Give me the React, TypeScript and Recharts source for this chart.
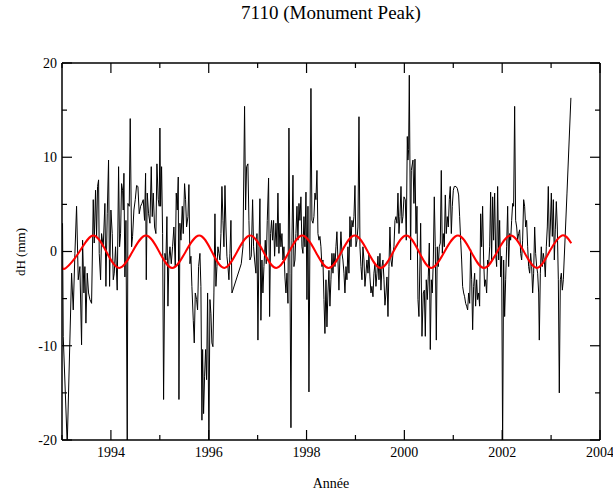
import { LineChart, Line, XAxis, YAxis } from "recharts";

const title = "7110 (Monument Peak)";
const xTitle = "Année";
const yTitle = "dH (mm)";

const yearTicks = [1993, 1994, 1995, 1996, 1997, 1998, 1999, 2000, 2001, 2002, 2003, 2004];
const dhTicks = [-20, -15, -10, -5, 0, 5, 10, 15, 20];

// dH observations, [decimal year, mm], one array per year
const obs1993: [number, number][] = [
  [1993.011, 3.0], [1993.025, -9.0], [1993.107, -20.5], [1993.196, -2.3], [1993.23, -6.2], [1993.264, -0.2],
  [1993.298, 4.8], [1993.332, -3.0], [1993.366, -1.6], [1993.4, -9.9], [1993.421, 1.2], [1993.448, -4.4],
  [1993.468, -1.6], [1993.489, -7.6], [1993.516, -2.3], [1993.543, -4.4], [1993.571, -5.1], [1993.605, -5.5],
  [1993.639, 5.5], [1993.659, 0.9], [1993.686, 6.5], [1993.707, 1.6], [1993.727, 6.9], [1993.748, 7.6],
  [1993.761, -0.2], [1993.789, -3.0], [1993.809, 1.9], [1993.843, 0.5], [1993.877, 5.1], [1993.898, -3.7],
  [1993.925, 4.0], [1993.952, 9.7], [1993.973, -3.7],
];
const obs1994: [number, number][] = [
  [1994.0, 4.4], [1994.027, 1.9], [1994.048, -3.0], [1994.068, -2.3], [1994.095, 0.5], [1994.129, -4.1],
  [1994.157, 9.0], [1994.177, 0.5], [1994.198, 1.9], [1994.218, 7.2], [1994.239, 6.5], [1994.252, 4.4],
  [1994.266, 8.3], [1994.286, -2.7], [1994.307, 3.3], [1994.334, -20.5], [1994.348, 5.1], [1994.375, 4.8],
  [1994.395, 14.1], [1994.423, 0.5], [1994.443, 1.6], [1994.47, 4.4], [1994.498, 5.5], [1994.525, 7.0],
  [1994.552, 6.9], [1994.579, 4.0], [1994.607, 4.8], [1994.634, 5.1], [1994.661, 5.5], [1994.688, 3.3],
  [1994.709, 8.3], [1994.723, -3.0], [1994.743, 6.2], [1994.77, 4.0], [1994.798, 3.0], [1994.825, 9.0],
  [1994.845, 3.7], [1994.866, 6.2], [1994.893, 2.6], [1994.92, 1.9], [1994.941, 9.3], [1994.968, 5.5],
  [1994.988, 4.8],
];
const obs1995: [number, number][] = [
  [1995.002, 13.1], [1995.016, 4.8], [1995.036, 9.0], [1995.057, 1.9], [1995.077, -15.7], [1995.104, -0.2],
  [1995.125, -0.9], [1995.145, 3.7], [1995.166, -5.8], [1995.186, -0.9], [1995.207, 0.5], [1995.234, -1.3],
  [1995.261, 0.5], [1995.288, 2.6], [1995.316, -1.6], [1995.336, 6.2], [1995.357, 4.4], [1995.377, 7.9],
  [1995.391, -15.7], [1995.411, 3.0], [1995.432, 1.2], [1995.459, 4.8], [1995.479, 1.9], [1995.506, 7.2],
  [1995.527, 5.5], [1995.547, 2.6], [1995.575, 3.7], [1995.595, 7.1], [1995.616, -1.3], [1995.636, -0.5],
  [1995.656, -3.7], [1995.684, -7.3], [1995.704, -9.7], [1995.725, -4.4], [1995.752, -5.1], [1995.772, -6.2],
  [1995.793, -1.6], [1995.82, -0.2], [1995.84, -3.7], [1995.861, -17.9], [1995.875, -10.4], [1995.895, -17.2],
  [1995.915, -13.3], [1995.936, -10.4], [1995.956, -13.6], [1995.977, -4.4],
];
const obs1996: [number, number][] = [
  [1996.004, -20.5], [1996.025, -5.1], [1996.045, -6.6], [1996.065, -9.7], [1996.086, -10.1], [1996.106, -4.4],
  [1996.127, 4.0], [1996.147, -3.7], [1996.168, -1.6], [1996.188, 0.5], [1996.209, -0.2], [1996.229, -0.9],
  [1996.25, 1.9], [1996.27, 6.9], [1996.291, 3.3], [1996.311, 0.5], [1996.332, 7.0], [1996.352, 2.6],
  [1996.372, -0.5], [1996.393, -1.6], [1996.413, -3.0], [1996.434, -0.2], [1996.454, 3.3], [1996.475, -4.4],
  [1996.665, -1.3], [1996.7, 0.5], [1996.733, 15.4], [1996.754, 4.4], [1996.774, 9.0], [1996.801, 9.3],
  [1996.822, 3.3], [1996.842, -0.9], [1996.87, -0.5], [1996.897, 5.5], [1996.917, 0.5], [1996.938, -0.9],
  [1996.965, -2.3], [1996.986, 1.9],
];
const obs1997: [number, number][] = [
  [1997.006, -9.4], [1997.027, 0.5], [1997.047, 5.6], [1997.067, -7.3], [1997.088, -0.9], [1997.108, -4.4],
  [1997.129, -1.6], [1997.156, 1.2], [1997.176, -1.3], [1997.197, 3.3], [1997.224, 7.8], [1997.245, -6.9],
  [1997.265, 1.9], [1997.285, 3.3], [1997.306, 1.2], [1997.326, 3.3], [1997.347, -0.5], [1997.374, 3.0],
  [1997.395, 0.5], [1997.415, 6.2], [1997.435, -0.2], [1997.456, 3.0], [1997.476, 0.5], [1997.497, 1.9],
  [1997.517, -0.9], [1997.538, 0.5], [1997.558, -2.7], [1997.579, -4.4], [1997.599, -2.3], [1997.62, -5.5],
  [1997.64, 13.1], [1997.661, -2.3], [1997.681, -18.7], [1997.701, 1.2], [1997.722, 8.1], [1997.742, -1.6],
  [1997.763, -0.9], [1997.783, 1.9], [1997.804, 4.8], [1997.824, 1.2], [1997.845, 5.1], [1997.865, 3.3],
  [1997.885, 5.8], [1997.906, 0.5], [1997.926, -0.2], [1997.947, 3.7], [1997.967, 0.5], [1997.988, 6.3],
];
const obs1998: [number, number][] = [
  [1998.008, -5.1], [1998.029, 4.8], [1998.049, -14.9], [1998.069, 1.2], [1998.09, 17.3], [1998.11, 3.3],
  [1998.131, 3.0], [1998.151, 3.7], [1998.172, 6.2], [1998.192, 5.5], [1998.213, 8.6], [1998.233, 1.9],
  [1998.254, 1.2], [1998.274, 1.6], [1998.294, 0.5], [1998.315, -1.6], [1998.335, -0.9], [1998.356, -5.1],
  [1998.376, -8.7], [1998.397, -3.0], [1998.417, -8.0], [1998.437, -4.4], [1998.458, -2.0], [1998.478, -5.8],
  [1998.499, -3.0], [1998.519, -0.2], [1998.54, -2.3], [1998.56, -0.2], [1998.581, -1.6], [1998.601, 0.5],
  [1998.621, 2.1], [1998.642, -0.9], [1998.662, -4.1], [1998.683, -0.5], [1998.703, 2.1], [1998.724, -0.2],
  [1998.744, -0.9], [1998.765, -2.3], [1998.785, -4.4], [1998.806, -1.6], [1998.826, -3.0], [1998.846, 0.5],
  [1998.867, -2.3], [1998.887, 3.7], [1998.908, 0.5], [1998.928, 3.3], [1998.949, 2.6], [1998.969, 3.7],
  [1998.99, 7.0],
];
const obs1999: [number, number][] = [
  [1999.01, 0.5], [1999.031, 1.2], [1999.051, 2.6], [1999.072, 14.3], [1999.092, 0.5], [1999.113, -1.6],
  [1999.133, -3.0], [1999.153, 0.5], [1999.174, -0.9], [1999.194, -3.7], [1999.215, -2.3], [1999.235, -0.9],
  [1999.256, -2.3], [1999.276, -0.2], [1999.296, -2.7], [1999.317, -4.4], [1999.337, -3.7], [1999.358, -4.8],
  [1999.378, -2.3], [1999.399, -1.3], [1999.419, -3.7], [1999.44, -2.3], [1999.46, -0.5], [1999.481, -3.0],
  [1999.501, -0.2], [1999.521, -4.1], [1999.542, -1.6], [1999.562, -0.9], [1999.583, -3.0], [1999.603, -5.7],
  [1999.624, -4.4], [1999.644, -2.7], [1999.665, -6.9], [1999.685, -1.6], [1999.705, 2.6], [1999.726, -0.9],
  [1999.746, -1.6], [1999.767, -0.2], [1999.787, 0.5], [1999.808, 3.3], [1999.828, 3.7], [1999.849, 3.0],
  [1999.869, 6.2], [1999.89, 1.9], [1999.91, 3.7], [1999.931, 6.9], [1999.951, 3.0], [1999.971, 3.7],
  [1999.992, 5.8],
];
const obs2000: [number, number][] = [
  [2000.019, 5.5], [2000.039, 1.2], [2000.06, 12.2], [2000.073, 9.7], [2000.087, 10.8], [2000.101, 18.7],
  [2000.128, -0.9], [2000.142, 8.6], [2000.176, 9.7], [2000.196, 5.1], [2000.217, 9.8], [2000.237, 1.9],
  [2000.258, 4.8], [2000.278, -5.1], [2000.298, -6.9], [2000.333, 3.0], [2000.36, -9.0], [2000.387, -4.4],
  [2000.408, -4.1], [2000.428, -9.0], [2000.448, -3.0], [2000.469, -5.1], [2000.489, -2.7], [2000.51, 0.9],
  [2000.53, -10.4], [2000.551, -3.0], [2000.571, -4.4], [2000.592, -0.9], [2000.612, 5.8], [2000.632, 0.5],
  [2000.653, -9.4], [2000.673, 0.5], [2000.694, -1.6], [2000.714, 0.5], [2000.735, 0.9], [2000.755, 8.6],
  [2000.776, -0.2], [2000.796, 1.9], [2000.817, 0.5], [2000.837, 6.0], [2000.857, 1.9], [2000.878, 3.7],
  [2000.898, 2.6], [2000.919, 5.5], [2000.939, 6.9], [2000.96, 1.9], [2000.98, 4.8],
];
const obs2001: [number, number][] = [
  [2001.001, 6.5], [2001.021, 6.9], [2001.055, 6.9], [2001.082, 6.7], [2001.11, 6.0], [2001.13, 3.7],
  [2001.151, 1.2], [2001.171, -0.9], [2001.191, -3.7], [2001.212, -4.4], [2001.232, -4.8], [2001.253, -5.5],
  [2001.273, -5.8], [2001.294, -6.2], [2001.314, -4.4], [2001.335, -5.5], [2001.355, 0.2], [2001.376, -3.0],
  [2001.396, -8.3], [2001.416, -3.7], [2001.437, -2.3], [2001.457, -5.8], [2001.478, -3.0], [2001.498, -5.1],
  [2001.519, -4.4], [2001.539, -5.8], [2001.56, 4.0], [2001.58, 0.5], [2001.6, 4.8], [2001.621, -0.9],
  [2001.641, -3.7], [2001.662, -3.0], [2001.682, -4.4], [2001.703, -0.9], [2001.723, -1.6], [2001.744, 0.5],
  [2001.764, 6.3], [2001.784, -0.9], [2001.805, 5.8], [2001.825, 1.2], [2001.846, 6.2], [2001.866, -0.2],
  [2001.887, -1.6], [2001.907, 6.9], [2001.928, -0.9], [2001.948, 3.3], [2001.969, -2.7], [2001.989, -0.5],
];
const obs2002: [number, number][] = [
  [2002.009, -20.5], [2002.03, -0.9], [2002.05, -6.9], [2002.071, -3.0], [2002.091, 0.5], [2002.112, 4.8],
  [2002.132, -1.6], [2002.153, 1.9], [2002.173, 1.2], [2002.194, 3.3], [2002.214, 5.1], [2002.234, 4.8],
  [2002.255, 15.4], [2002.275, 3.3], [2002.296, 2.6], [2002.316, 1.2], [2002.337, 1.9], [2002.357, 2.3],
  [2002.378, -0.2], [2002.398, -0.9], [2002.418, 1.2], [2002.439, 5.5], [2002.459, 4.8], [2002.48, 2.6],
  [2002.5, 3.3], [2002.521, 0.5], [2002.541, -1.6], [2002.562, -2.3], [2002.582, -0.2], [2002.603, -1.6],
  [2002.623, -4.4], [2002.643, -2.3], [2002.664, 2.6], [2002.684, -0.2], [2002.705, -1.6], [2002.725, -2.3],
  [2002.746, -4.4], [2002.759, -9.4], [2002.78, -2.3], [2002.8, 0.5], [2002.821, -1.6], [2002.841, -0.2],
  [2002.862, -0.9], [2002.882, -2.7], [2002.902, 0.5], [2002.923, 2.6], [2002.943, 6.9], [2002.964, 0.5],
  [2002.984, 2.6],
];
const obs2003: [number, number][] = [
  [2003.005, 6.2], [2003.025, 1.6], [2003.046, 5.5], [2003.066, -0.9], [2003.086, 2.3], [2003.107, 5.3],
  [2003.127, 2.6], [2003.148, -3.0], [2003.168, -15.0], [2003.189, -3.0], [2003.209, -2.3], [2003.23, -4.1],
  [2003.25, -3.0], [2003.325, 6.2], [2003.405, 16.3],
];

// annual term, read at extremes and zero crossings
const seasonal: [number, number][] = [
  [1993.0, -1.55], [1993.08, -1.75], [1993.359, 0], [1993.638, 1.7], [1993.904, 0], [1994.17, -1.75],
  [1994.443, 0], [1994.716, 1.7], [1994.985, 0], [1995.254, -1.75], [1995.53, 0], [1995.806, 1.7],
  [1996.062, 0], [1996.317, -1.75], [1996.583, 0], [1996.849, 1.7], [1997.115, 0], [1997.38, -1.75],
  [1997.646, 0], [1997.912, 1.7], [1998.182, 0], [1998.452, -1.75], [1998.718, 0], [1998.984, 1.7],
  [1999.25, 0], [1999.515, -1.75], [1999.777, 0], [2000.039, 1.7], [2000.295, 0], [2000.55, -1.75],
  [2000.823, 0], [2001.096, 1.7], [2001.362, 0], [2001.628, -1.75], [2001.901, 0], [2002.174, 1.7],
  [2002.443, 0], [2002.712, -1.75], [2002.968, 0], [2003.223, 1.7], [2003.413, 0.87],
];

const observed = [
  ...obs1993, ...obs1994, ...obs1995, ...obs1996, ...obs1997, ...obs1998,
  ...obs1999, ...obs2000, ...obs2001, ...obs2002, ...obs2003,
].map(([t, v]) => ({ t, v }));
const annual = seasonal.map(([t, v]) => ({ t, v }));

const FONT = "'Liberation Serif', 'Times New Roman', serif";
const axisLine = { stroke: "#000", strokeWidth: 1.5 };

function BottomTick(p: any) {
  const major = p.payload.value % 2 === 0;
  return (
    <g>
      <line x1={p.x} y1={p.y} x2={p.x} y2={p.y - (major ? 10 : 5)} stroke="#000" strokeWidth={1.2} />
      {major && (
        <text x={p.x} y={p.y + 17} textAnchor="middle" fontSize={14} fontFamily={FONT} fill="#000">
          {p.payload.value}
        </text>
      )}
    </g>
  );
}

function TopTick(p: any) {
  const major = p.payload.value % 2 === 0;
  return <line x1={p.x} y1={p.y} x2={p.x} y2={p.y + (major ? 10 : 5)} stroke="#000" strokeWidth={1.2} />;
}

function LeftTick(p: any) {
  const major = p.payload.value % 10 === 0;
  return (
    <g>
      <line x1={p.x} y1={p.y} x2={p.x + (major ? 10 : 5)} y2={p.y} stroke="#000" strokeWidth={1.2} />
      {major && (
        <text x={p.x - 5} y={p.y} dy="0.35em" textAnchor="end" fontSize={14} fontFamily={FONT} fill="#000">
          {p.payload.value}
        </text>
      )}
    </g>
  );
}

function RightTick(p: any) {
  const major = p.payload.value % 10 === 0;
  return <line x1={p.x} y1={p.y} x2={p.x - (major ? 10 : 5)} y2={p.y} stroke="#000" strokeWidth={1.2} />;
}

export default function App() {
  return (
    <div style={{ position: "absolute", left: 0, top: 0, width: 613, height: 491, background: "#fff" }}>
      <LineChart width={613} height={491} margin={{ top: 62, right: 12, bottom: 50, left: 61 }}>
        <XAxis
          dataKey="t"
          type="number"
          domain={[1993, 2004]}
          allowDataOverflow
          ticks={yearTicks}
          interval={0}
          height={1}
          tickSize={0}
          tickMargin={0}
          axisLine={axisLine}
          tick={(p: any) => <BottomTick {...p} />}
        />
        <XAxis
          xAxisId="top"
          orientation="top"
          dataKey="t"
          type="number"
          domain={[1993, 2004]}
          allowDataOverflow
          ticks={yearTicks}
          interval={0}
          height={1}
          tickSize={0}
          tickMargin={0}
          axisLine={axisLine}
          tick={(p: any) => <TopTick {...p} />}
        />
        <YAxis
          type="number"
          domain={[-20, 20]}
          allowDataOverflow
          ticks={dhTicks}
          interval={0}
          width={1}
          tickSize={0}
          tickMargin={0}
          axisLine={axisLine}
          tick={(p: any) => <LeftTick {...p} />}
        />
        <YAxis
          yAxisId="right"
          orientation="right"
          type="number"
          domain={[-20, 20]}
          allowDataOverflow
          ticks={dhTicks}
          interval={0}
          width={1}
          tickSize={0}
          tickMargin={0}
          axisLine={axisLine}
          tick={(p: any) => <RightTick {...p} />}
        />
        <Line
          data={observed}
          dataKey="v"
          type="linear"
          stroke="#000"
          strokeWidth={1}
          dot={false}
          isAnimationActive={false}
        />
        <Line
          data={annual}
          dataKey="v"
          type="natural"
          stroke="#ff0000"
          strokeWidth={2}
          dot={false}
          isAnimationActive={false}
        />
      </LineChart>
      <svg width={613} height={491} style={{ position: "absolute", left: 0, top: 0, pointerEvents: "none" }}>
        <text x={331} y={19} textAnchor="middle" fontSize={19} fontFamily={FONT} fill="#000">
          {title}
        </text>
        <text x={331} y={488} textAnchor="middle" fontSize={14} fontFamily={FONT} fill="#000">
          {xTitle}
        </text>
        <text
          transform="translate(25,252) rotate(-90)"
          textAnchor="middle"
          fontSize={13}
          fontFamily={FONT}
          fill="#000"
        >
          {yTitle}
        </text>
      </svg>
    </div>
  );
}
